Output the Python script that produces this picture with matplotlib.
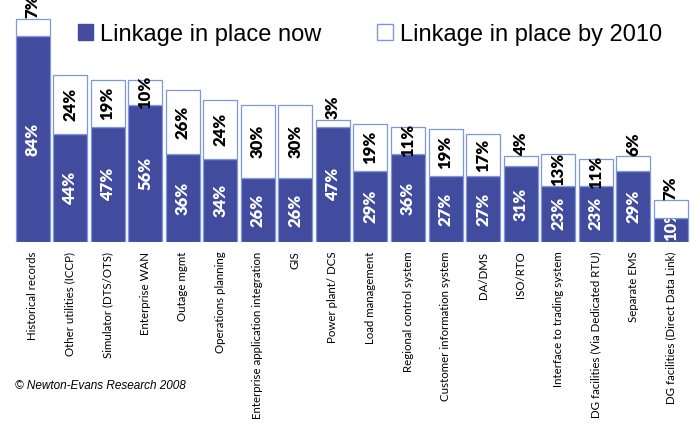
import numpy as np
import matplotlib
matplotlib.use('Agg')
import matplotlib.pyplot as plt
from matplotlib.patches import Patch

## Survey data: share of utilities with each linkage ##
categories = ['Historical records', 'Other utilities (ICCP)', 'Simulator (DTS/OTS)',
              'Enterprise WAN', 'Outage mgmt', 'Operations planning',
              'Enterprise application integration', 'GIS', 'Power plant/ DCS',
              'Load management', 'Regional control system', 'Customer information system',
              'DA/DMS', 'ISO/RTO', 'Interface to trading system',
              'DG facilities (Via Dedicated RTU)', 'Separate EMS',
              'DG facilities (Direct Data Link)']
now = [84, 44, 47, 56, 36, 34, 26, 26, 47, 29, 36, 27, 27, 31, 23, 23, 29, 10]
by_2010 = [7, 24, 19, 10, 26, 24, 30, 30, 3, 19, 11, 19, 17, 4, 13, 11, 6, 7]

blue = '#414c9f'
edge = '#7f97dc'

fig = plt.figure(figsize=(7, 4.26), dpi=100)
ax = fig.add_axes([13/700, 184/426, 677/700, 240/426])

x = np.arange(len(categories))
now = np.array(now)
by_2010 = np.array(by_2010)

ax.bar(x, now, width=0.905, color=blue, edgecolor=edge, linewidth=0.9, zorder=1)
ax.bar(x, by_2010, bottom=now, width=0.905, color='white', edgecolor=edge,
       linewidth=0.9, zorder=3)

lab = dict(rotation=90, ha='center', fontsize=12, fontweight='heavy', family='Lato')

# white labels sit under the white segments, black ones on top of everything
for i in range(len(x)):
    if now[i] < 14:
        # too short to centre: start at the baseline, the white segment hides the rest
        ax.text(x[i], 0.4, '%d%%' % now[i], va='bottom', color='white', zorder=2, **lab)
    else:
        ax.text(x[i], now[i] / 2, '%d%%' % now[i], va='center', color='white',
                zorder=2, **lab)
    if by_2010[i] <= 7:
        ax.text(x[i], now[i] + by_2010[i] + 0.3, '%d%%' % by_2010[i], va='bottom',
                color='black', zorder=4, **lab)
    else:
        ax.text(x[i], now[i] + by_2010[i] / 2, '%d%%' % by_2010[i], va='center',
                color='black', zorder=4, **lab)

ax.set_xlim(-0.52, 17.51)
ax.set_ylim(0, 98)
ax.set_yticks([])
ax.set_xticks(x)
ax.set_xticklabels(categories, rotation=90, va='top', ha='center', fontsize=8.3,
                   family='Lato')
ax.tick_params(axis='x', length=0, pad=7)
for s in ax.spines.values():
    s.set_visible(False)

handles = [Patch(facecolor=blue, edgecolor=blue),
           Patch(facecolor='white', edgecolor=edge)]
fig.legend(handles, ['Linkage in place now', 'Linkage in place by 2010'],
           loc='center left', bbox_to_anchor=(78/700, 1 - 34.5/426), ncol=2,
           frameon=False, borderpad=0, borderaxespad=0, handlelength=0.65,
           handleheight=0.65, handletextpad=0.3, columnspacing=2.35,
           prop={'family': 'Liberation Sans', 'size': 17})

fig.text(15/700, 1 - 386/426, '\u00a9 Newton-Evans Research 2008', fontsize=8.5,
         style='italic', family='Liberation Sans', va='center', ha='left')

fig.savefig('out.png', dpi=100)
